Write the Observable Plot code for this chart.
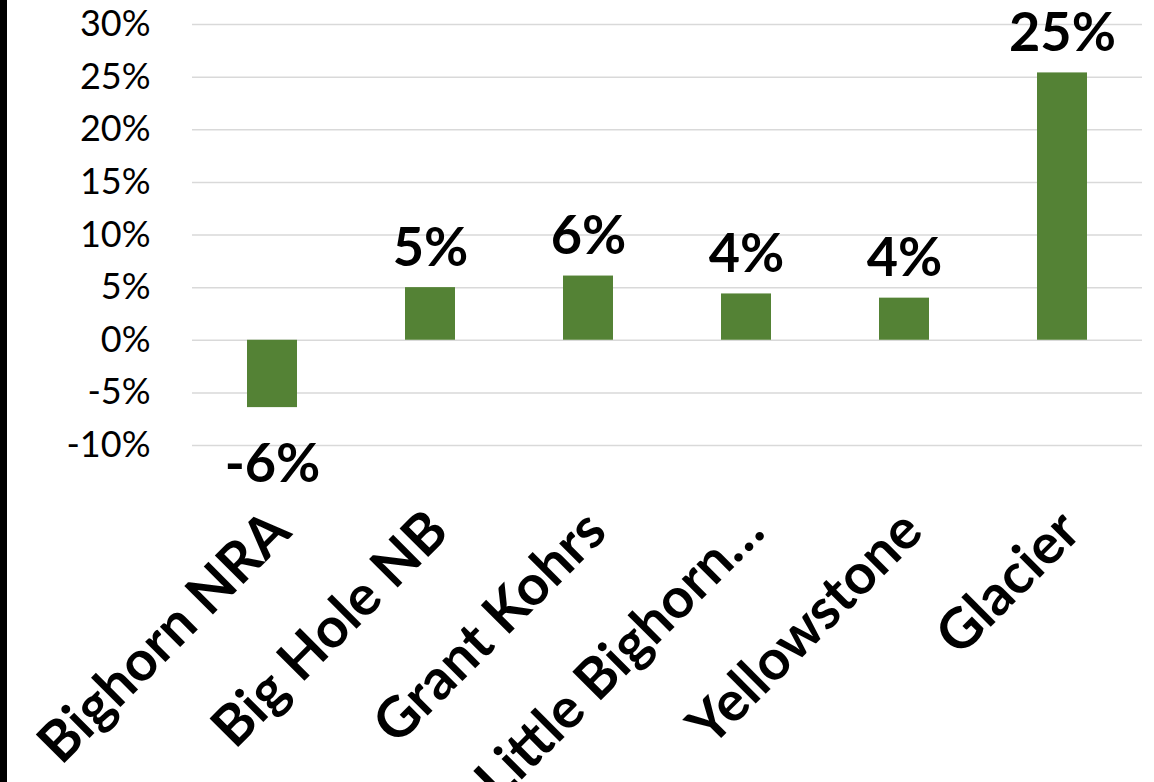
<!DOCTYPE html>
<html>
<head>
<meta charset="utf-8">
<script src="https://cdn.jsdelivr.net/npm/d3@7"></script>
<script src="https://cdn.jsdelivr.net/npm/@observablehq/plot@0.6"></script>
<style>
  html, body { margin: 0; padding: 0; background: #fff; }
  #wrap { position: relative; width: 1154px; height: 782px; overflow: hidden; }
  #edge { position: absolute; left: 0; top: 0; width: 7px; height: 782px; background: #000; }
</style>
</head>
<body>
<div id="wrap"><div id="edge"></div><div id="chart"></div></div>
<script>
const parks = ["Bighorn NRA", "Big Hole NB", "Grant Kohrs", "Little Bighorn…", "Yellowstone", "Glacier"];
const changes = [-6.4, 5.0, 6.1, 4.4, 4.0, 25.4];
const yTicks = [-10, -5, 0, 5, 10, 15, 20, 25, 30];

const data = parks.map((p, i) => ({park: p, value: changes[i]}));
const fmt = v => Math.round(v) + "%";

const chart = Plot.plot({
  width: 1154,
  height: 782,
  marginTop: 24,
  marginBottom: 337,
  marginLeft: 192,
  marginRight: 12,
  style: {fontFamily: "Lato, sans-serif", color: "#000", background: "transparent"},
  x: {domain: parks, paddingInner: 0.684, paddingOuter: 0.342, axis: null},
  y: {domain: [-10, 30], axis: null},
  marks: [
    Plot.ruleY(yTicks, {stroke: "#d9d9d9", strokeWidth: 1.5}),
    Plot.axisY(yTicks, {tickSize: 0, tickPadding: 42, tickFormat: d => d + "%", fontSize: 36, fill: "#000", label: null}),
    Plot.barY(data, {x: "park", y: "value", fill: "#548235"}),
    Plot.text(data.filter(d => d.value >= 0), {x: "park", y: "value", text: d => fmt(d.value), lineAnchor: "bottom", dy: -22, fontSize: 54, fontWeight: "bold", fill: "#000"}),
    Plot.text(data.filter(d => d.value < 0), {x: "park", y: "value", text: d => fmt(d.value), lineAnchor: "top", dy: 36, fontSize: 54, fontWeight: "bold", fill: "#000"}),
    Plot.text(data, {x: "park", frameAnchor: "bottom", text: "park", rotate: -45, textAnchor: "end", lineAnchor: "middle", dx: 8, dy: 76, fontSize: 56, fontWeight: "bold", fill: "#000"})
  ]
});
document.getElementById("chart").appendChild(chart);
</script>
</body>
</html>
